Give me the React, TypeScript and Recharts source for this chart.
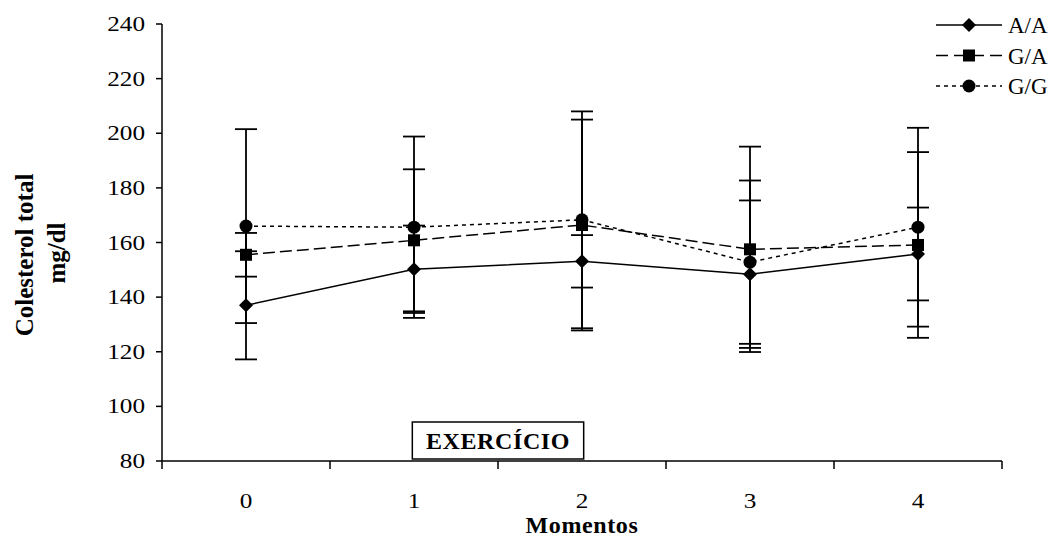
import { LineChart, Line, XAxis, YAxis, ErrorBar, ReferenceArea } from 'recharts'

// momentos de coleta
const momentos = [0, 1, 2, 3, 4]

// médias e desvios por genótipo
const aa = [137, 150.2, 153.1, 148.4, 155.8]
const aaDp = [19.8, 16, 9.6, 27, 17]
const ga = [155.5, 160.8, 166.4, 157.5, 159.1]
const gaDp = [8, 26, 38.6, 37.6, 34]
const gg = [166, 165.6, 168.3, 152.8, 165.6]
const ggDp = [35.5, 33.2, 39.7, 29.9, 36.4]

const yTicks = [80, 100, 120, 140, 160, 180, 200, 220, 240]
const xTicks = [-0.5, 0, 0.5, 1, 1.5, 2, 2.5, 3, 3.5, 4, 4.5]

const data = momentos.map((m, i) => ({
  m,
  aa: aa[i], aaDp: aaDp[i],
  ga: ga[i], gaDp: gaDp[i],
  gg: gg[i], ggDp: ggDp[i],
}))

const FONT = '"Liberation Serif", "Times New Roman", serif'
// numerais um pouco mais largos que o normal
const DIGIT_W = 12.6

type Shape = 'diamond' | 'square' | 'circle'

function Marker({ cx, cy, shape }: { cx: number; cy: number; shape: Shape }) {
  if (cx == null || cy == null) return null
  if (shape === 'diamond')
    return <polygon points={`${cx},${cy - 7} ${cx + 7},${cy} ${cx},${cy + 7} ${cx - 7},${cy}`} fill="#000" />
  if (shape === 'square') return <rect x={cx - 6} y={cy - 6} width={12} height={12} fill="#000" />
  return <circle cx={cx} cy={cy} r={6.5} fill="#000" />
}

const dotFor = (shape: Shape) => (p: any) => <Marker key={`${shape}-${p.index}`} cx={p.cx} cy={p.cy} shape={shape} />

function MomentTick({ x, y, payload }: any) {
  const v = payload.value
  if (Number.isInteger(v))
    return (
      <text x={x} y={y + 47} textAnchor="middle" fontSize={21} fontFamily={FONT} fill="#000"
        textLength={DIGIT_W * String(v).length} lengthAdjust="spacingAndGlyphs">
        {v}
      </text>
    )
  return <line x1={x} y1={y} x2={x} y2={y + 8} stroke="#000" strokeWidth={1.5} />
}

function ValueTick({ x, y, payload }: any) {
  const s = String(payload.value)
  return (
    <text x={x} y={y + 7} textAnchor="end" fontSize={21} fontFamily={FONT} fill="#000"
      textLength={DIGIT_W * s.length} lengthAdjust="spacingAndGlyphs">
      {s}
    </text>
  )
}

function YTitle() {
  return (
    <g fontFamily={FONT} fontWeight="bold" fontSize={25} fill="#000">
      <text transform="rotate(-90, 33, 255)" x={33} y={255} textAnchor="middle">Colesterol total</text>
      <text transform="rotate(-90, 65, 253)" x={65} y={253} textAnchor="middle">mg/dl</text>
    </g>
  )
}

function XTitle({ viewBox }: any) {
  const cx = viewBox.x + viewBox.width / 2
  return (
    <text x={cx} y={533} textAnchor="middle" fontFamily={FONT} fontWeight="bold" fontSize={24} letterSpacing={0.6} fill="#000">
      Momentos
    </text>
  )
}

const legendRows: { name: string; shape: Shape; dash?: string }[] = [
  { name: 'A/A', shape: 'diamond' },
  { name: 'G/A', shape: 'square', dash: '12 6' },
  { name: 'G/G', shape: 'circle', dash: '4 4' },
]

function LegendBox() {
  return (
    <svg width={1054} height={110} style={{ position: 'absolute', left: 0, top: 0 }}>
      {legendRows.map((r, i) => {
        const y = 25 + i * 30.5
        return (
          <g key={r.name}>
            <line x1={936} x2={1002} y1={y} y2={y} stroke="#000" strokeWidth={1.5} strokeDasharray={r.dash} />
            <Marker cx={969} cy={y} shape={r.shape} />
            <text x={1008} y={y + 8} fontFamily={FONT} fontSize={23} fill="#000">{r.name}</text>
          </g>
        )
      })}
    </svg>
  )
}

export default function App() {
  return (
    <div style={{ position: 'absolute', left: 0, top: 0, width: 1054, height: 538, background: '#fff' }}>
      <LineChart width={1054} height={538} data={data} margin={{ top: 24, right: 52, left: 0, bottom: 0 }}>
        <XAxis
          dataKey="m"
          type="number"
          domain={[-0.5, 4.5]}
          ticks={xTicks}
          interval={0}
          tickSize={0}
          tickMargin={0}
          tickLine={false}
          tick={<MomentTick />}
          height={77}
          axisLine={{ stroke: '#000', strokeWidth: 1.5 }}
          label={<XTitle />}
        />
        <YAxis
          domain={[80, 240]}
          ticks={yTicks}
          allowDataOverflow
          width={162}
          tickSize={6}
          tickMargin={11}
          axisLine={{ stroke: '#000', strokeWidth: 1.5 }}
          tickLine={{ stroke: '#000', strokeWidth: 1.5 }}
          tick={<ValueTick />}
          label={<YTitle />}
        />
        <ReferenceArea
          x1={0.99}
          x2={2.01}
          y1={80.7}
          y2={94.3}
          fill="#fff"
          fillOpacity={1}
          stroke="#000"
          strokeWidth={1.5}
          label={{ value: 'EXERCÍCIO', position: 'center', fill: '#000', fontSize: 24, fontWeight: 'bold', fontFamily: FONT, letterSpacing: 0.6 }}
        />
        <Line dataKey="aa" stroke="#000" strokeWidth={1.5} dot={dotFor('diamond')} activeDot={false} isAnimationActive={false}>
          <ErrorBar dataKey="aaDp" direction="y" width={11} stroke="#000" strokeWidth={1.8} />
        </Line>
        <Line dataKey="ga" stroke="#000" strokeWidth={1.5} strokeDasharray="12 5" dot={dotFor('square')} activeDot={false} isAnimationActive={false}>
          <ErrorBar dataKey="gaDp" direction="y" width={11} stroke="#000" strokeWidth={1.8} />
        </Line>
        <Line dataKey="gg" stroke="#000" strokeWidth={1.5} strokeDasharray="4 4" dot={dotFor('circle')} activeDot={false} isAnimationActive={false}>
          <ErrorBar dataKey="ggDp" direction="y" width={11} stroke="#000" strokeWidth={1.8} />
        </Line>
      </LineChart>
      <LegendBox />
    </div>
  )
}
